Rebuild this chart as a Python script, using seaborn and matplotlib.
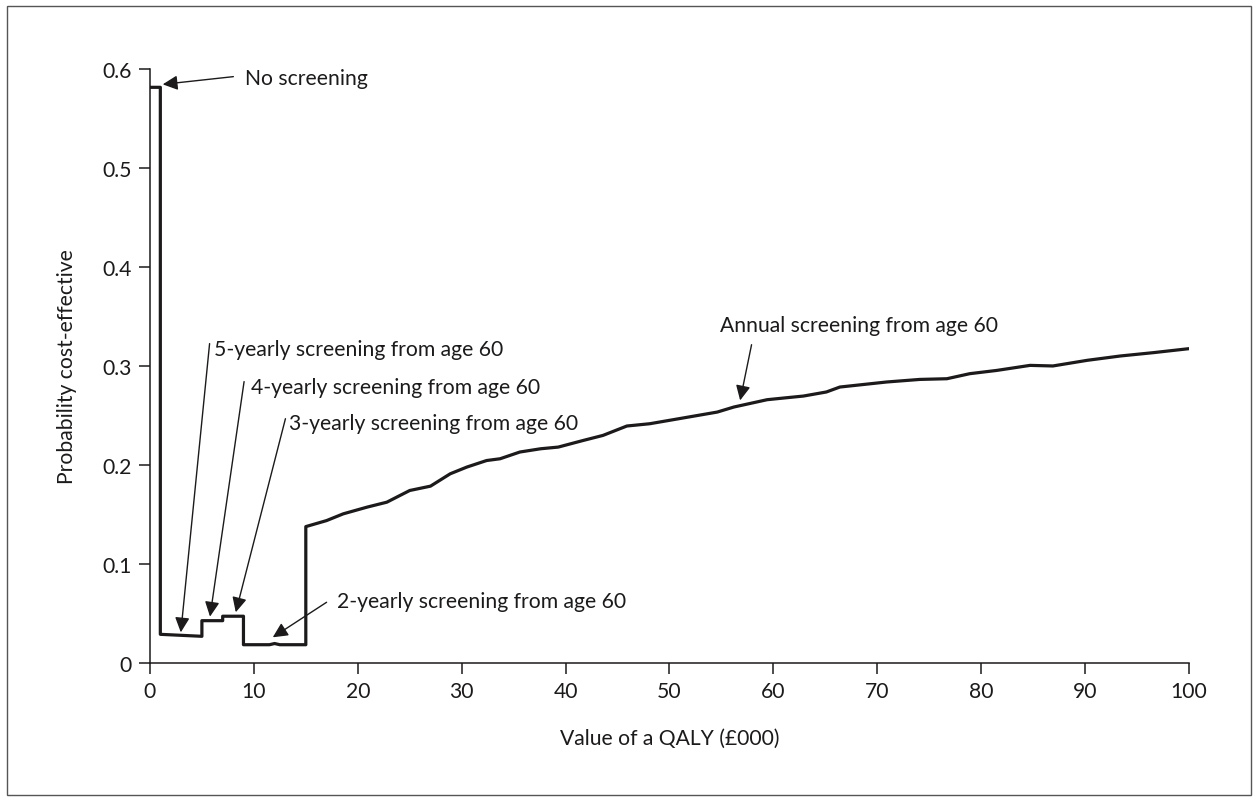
import numpy as np
import pandas as pd
import matplotlib
matplotlib.use("Agg")
import matplotlib.pyplot as plt
from matplotlib.patches import Rectangle
import seaborn as sns

# step part (vertices, incl. the vertical drops) of the acceptability curve
step_wtp = [0, 1, 1, 5, 5, 7, 7, 9, 9, 11.5, 12, 12.5, 15, 15]
step_prob = [0.5815, 0.5815, 0.0285, 0.0265, 0.0423, 0.0423, 0.0468, 0.0468,
             0.018, 0.018, 0.0192, 0.018, 0.018, 0.1374]

# annual screening part of the curve
annual_wtp = [17.0, 18.6, 20.9, 22.8, 25.0, 27.0, 28.9, 30.5, 32.4, 33.7, 35.6,
              37.6, 39.3, 41.7, 43.6, 45.9, 48.1, 51.3, 54.6, 56.2, 59.4, 61.0,
              62.9, 65.1, 66.4, 70.9, 74.1, 76.7, 78.9, 81.5, 84.7, 86.9, 90.2,
              93.4, 96.6, 100.0]
annual_prob = [0.1435, 0.1503, 0.1571, 0.1621, 0.1739, 0.1783, 0.1908, 0.1976,
               0.2042, 0.2060, 0.2128, 0.2161, 0.2178, 0.2245, 0.2296, 0.2391,
               0.2414, 0.2472, 0.2532, 0.2583, 0.2657, 0.2674, 0.2694, 0.2735,
               0.2785, 0.2836, 0.2862, 0.2869, 0.2920, 0.2953, 0.3004, 0.2998,
               0.3055, 0.3099, 0.3133, 0.3173]

labels = ["No screening", "5-yearly screening from age 60",
          "4-yearly screening from age 60", "3-yearly screening from age 60",
          "2-yearly screening from age 60", "Annual screening from age 60"]
text_pos = [(9.15, 0.5906), (6.17, 0.3173), (9.73, 0.2788), (13.39, 0.2424),
            (17.98, 0.0626), (54.87, 0.341)]
arrow_tail = [(8.03, 0.5923), (5.74, 0.3224), (9.06, 0.2840), (13.04, 0.2465),
              (17.0, 0.0609), (57.9, 0.3213)]
arrow_tip = [(1.23, 0.5845), (2.97, 0.0305), (5.78, 0.0464), (8.26, 0.0508),
             (11.82, 0.0255), (56.8, 0.265)]

ink = "#1c1a1b"
fs = 15.2

sns.set_theme(style="ticks")
plt.rcParams["font.family"] = ["Lato", "DejaVu Sans"]

df = pd.DataFrame({"wtp": step_wtp + annual_wtp, "prob": step_prob + annual_prob})

fig = plt.figure(figsize=(12.59, 8.03), dpi=100)
ax = fig.add_axes([0.1191, 0.1737, 0.8253, 0.7391])

sns.lineplot(data=df, x="wtp", y="prob", estimator=None, sort=False,
             color=ink, lw=2.3, ax=ax)

ax.set_xlim(0, 100)
ax.set_ylim(0, 0.6)
ax.set_xticks(np.arange(0, 101, 10))
ax.set_yticks([0, 0.1, 0.2, 0.3, 0.4, 0.5, 0.6])
ax.set_yticklabels(["0", "0.1", "0.2", "0.3", "0.4", "0.5", "0.6"])
ax.tick_params(length=8, width=1.1, color=ink, labelcolor=ink, labelsize=fs, pad=5)
for s in ["top", "right"]:
    ax.spines[s].set_visible(False)
for s in ["left", "bottom"]:
    ax.spines[s].set_linewidth(1.1)
    ax.spines[s].set_color(ink)

ax.set_xlabel("Value of a QALY (£000)", fontsize=fs, color=ink, labelpad=20)
ax.set_ylabel("Probability cost-effective", fontsize=fs, color=ink, labelpad=18)

for lab, tp, tail, tip in zip(labels, text_pos, arrow_tail, arrow_tip):
    ax.annotate("", xy=tip, xytext=tail, annotation_clip=False,
                arrowprops=dict(arrowstyle="-|>,head_length=0.45,head_width=0.22",
                                color=ink, lw=1.0, shrinkA=0, shrinkB=0,
                                mutation_scale=20))
    ax.text(tp[0], tp[1], lab, fontsize=fs, color=ink, ha="left", va="center",
            clip_on=False)

# thin frame round the whole figure
fig.patches.append(Rectangle((7 / 1259, 7 / 803), 1244 / 1259, 789 / 803,
                             transform=fig.transFigure, fill=False,
                             edgecolor="#555555", lw=1.0))

fig.savefig("out.png", dpi=100)
